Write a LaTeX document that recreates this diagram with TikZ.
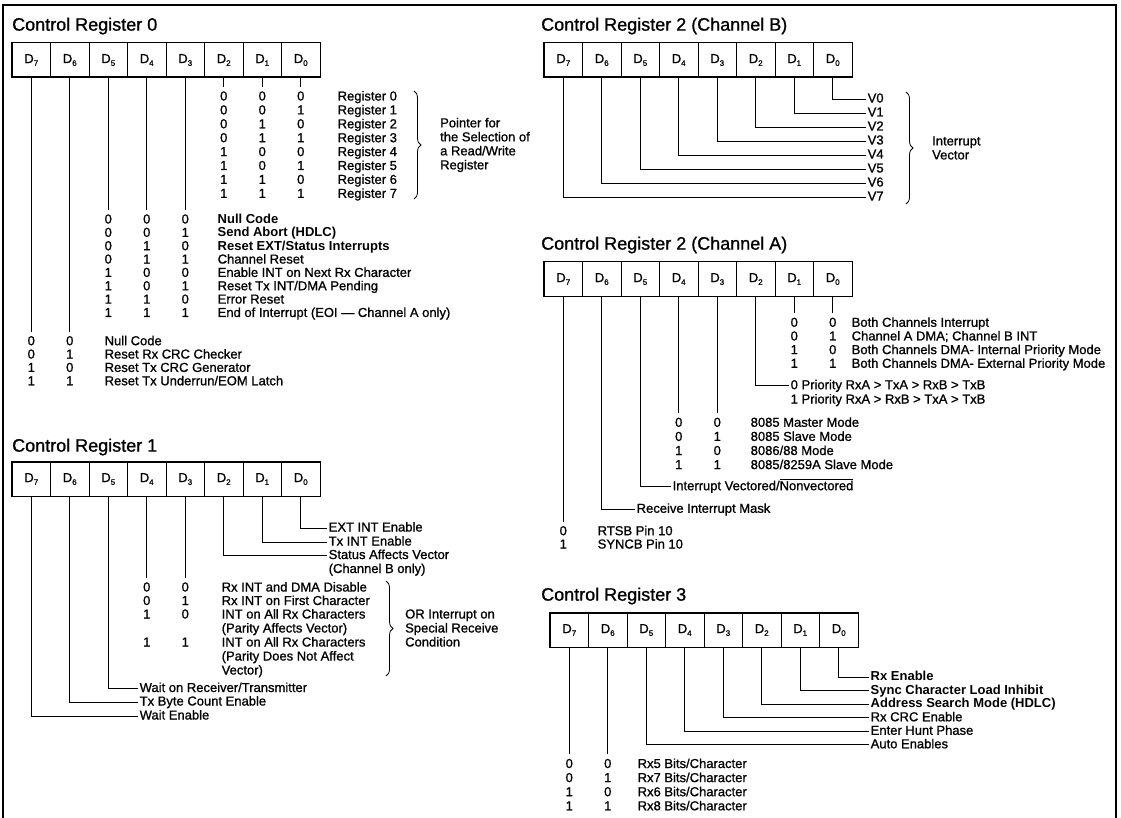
\documentclass[tikz,border=0pt]{standalone}
\usepackage{fontspec}
\setmainfont{Liberation Sans}[UprightFeatures={FakeBold=1.0}]
\usetikzlibrary{decorations.pathreplacing}
\newcommand\dsub[1]{\raisebox{-0.22em}{\fontsize{8}{8}\selectfont #1}}
\newcommand\bodyf{\fontsize{13}{14}\selectfont}
\newcommand\titlef{\fontsize{18}{20}\selectfont}
\tikzset{
 cell/.style={draw, line width=1pt, minimum width=38.5pt, minimum height=34pt, inner sep=0pt, font=\bodyf},
 outer/.style={line width=1.8pt},
 ttl/.style={anchor=west, inner sep=0pt, font=\titlef},
 lbl/.style={anchor=west, inner sep=1.5pt, font=\bodyf, text height=9.5pt, text depth=2.5pt},
 bl/.style={lbl, font=\bodyf\bfseries},
 num/.style={inner sep=0pt, font=\bodyf, text height=9.5pt, text depth=2.5pt},
 wire/.style={line width=0.7pt},
 gap/.style={wire, shorten >=4pt},
 brc/.style={decorate, decoration={brace, amplitude=7pt}, line width=0.8pt},
 para/.style={anchor=west, inner sep=0pt, align=left, font=\bodyf},
}
\newcommand\regrow[3]{%
 \foreach \i in {0,...,7}{
   \node[cell] (#1\i) at ({#2+38.5*(7-\i)+19.25},{#3+17}) {D\dsub{\i}};
 }
 \draw[outer] (#17.north west) rectangle (#10.south east);
}
\begin{document}
\begin{tikzpicture}[x=1pt,y=-1pt]
\useasboundingbox (0,0) rectangle (1121,818);
\draw[line width=1.2pt] (3,818) -- (3,5) -- (1116,5) -- (1116,818);

% ---------------- Control Register 0
\node[ttl] (t0) at (12,26) {Control Register 0};
\regrow{a}{12}{43}
\foreach \k/\b/\c/\d in {0/0/0/0,1/0/0/1,2/0/1/0,3/0/1/1,4/1/0/0,5/1/0/1,6/1/1/0,7/1/1/1}{
 \pgfmathsetmacro\yy{97+13.9*\k}
 \node[num] (pa\k) at (223.75,\yy) {\b};
 \node[num] (pb\k) at (262.25,\yy) {\c};
 \node[num] (pc\k) at (300.75,\yy) {\d};
 \node[lbl] (pr\k) at (336,\yy) {Register \k};
}
\draw[gap] (a2.south) -- (pa0.north);
\draw[gap] (a1.south) -- (pb0.north);
\draw[gap] (a0.south) -- (pc0.north);
\draw[brc] (414,91) -- (414,199);
\node[para] (ptr) at (440,145) {Pointer for\\the Selection of\\a Read/Write\\Register};

\foreach \k/\b/\c/\d in {0/0/0/0,1/0/0/1,2/0/1/0,3/0/1/1,4/1/0/0,5/1/0/1,6/1/1/0,7/1/1/1}{
 \pgfmathsetmacro\yy{220+13.35*\k}
 \node[num] (qa\k) at (108.25,\yy) {\b};
 \node[num] (qb\k) at (146.75,\yy) {\c};
 \node[num] (qc\k) at (185.25,\yy) {\d};
}
\node[bl] (q0) at (216,220) {Null Code};
\node[bl] (q1) at (216,233.35) {Send Abort (HDLC)};
\node[bl] (q2) at (216,246.7) {Reset EXT/Status Interrupts};
\node[lbl] (q3) at (216,260.05) {Channel Reset};
\node[lbl] (q4) at (216,273.4) {Enable INT on Next Rx Character};
\node[lbl] (q5) at (216,286.75) {Reset Tx INT/DMA Pending};
\node[lbl] (q6) at (216,300.1) {Error Reset};
\node[lbl] (q7) at (216,313.45) {End of Interrupt (EOI — Channel A only)};
\draw[gap] (a5.south) -- (qa0.north);
\draw[gap] (a4.south) -- (qb0.north);
\draw[gap] (a3.south) -- (qc0.north);

\foreach \k/\b/\c/\t in {0/0/0/Null Code,1/0/1/Reset Rx CRC Checker,2/1/0/Reset Tx CRC Generator,3/1/1/Reset Tx Underrun\slash EOM Latch}{
 \pgfmathsetmacro\yy{341.7+13.35*\k}
 \node[num] (sa\k) at (31.25,\yy) {\b};
 \node[num] (sb\k) at (69.75,\yy) {\c};
 \node[lbl] (sl\k) at (103,\yy) {\t};
}
\draw[gap] (a7.south) -- (sa0.north);
\draw[gap] (a6.south) -- (sb0.north);

% ---------------- Control Register 1
\node[ttl] (t1) at (12,447) {Control Register 1};
\regrow{b}{12}{462}
\node[lbl] (extint) at (327,528) {EXT INT Enable};
\node[lbl] (txint) at (327,542) {Tx INT Enable};
\node[lbl] (stat) at (327,555.5) {Status Affects Vector};
\node[lbl] (statb) at (327,569.5) {(Channel B only)};
\draw[wire] (b0.south) |- (extint.west);
\draw[wire] (b1.south) |- (txint.west);
\draw[wire] (b2.south) |- (stat.west);
\foreach \k/\b/\c/\y in {0/0/0/588,1/0/1/601.5,2/1/0/615,3/1/1/643}{
 \node[num] (ua\k) at (146.75,\y) {\b};
 \node[num] (ub\k) at (185.25,\y) {\c};
}
\node[lbl] (ul0) at (220,588) {Rx INT and DMA Disable};
\node[lbl] (ul1) at (220,601.5) {Rx INT on First Character};
\node[lbl] (ul2) at (220,615) {INT on All Rx Characters};
\node[lbl] (ul2b) at (220,629) {(Parity Affects Vector)};
\node[lbl] (ul3) at (220,643) {INT on All Rx Characters};
\node[lbl] (ul3b) at (220,657) {(Parity Does Not Affect};
\node[lbl] (ul3c) at (220,671) {Vector)};
\draw[gap] (b4.south) -- (ua0.north);
\draw[gap] (b3.south) -- (ub0.north);
\draw[brc] (386,581) -- (386,676);
\node[para] (orint) at (405,628) {OR Interrupt on\\Special Receive\\Condition};
\node[lbl] (waitrt) at (138,688.5) {Wait on Receiver/Transmitter};
\node[lbl] (txbyte) at (138,702) {Tx Byte Count Enable};
\node[lbl] (waiten) at (138,716) {Wait Enable};
\draw[wire] (b5.south) |- (waitrt.west);
\draw[wire] (b6.south) |- (txbyte.west);
\draw[wire] (b7.south) |- (waiten.west);

% ---------------- Control Register 2 (Channel B)
\node[ttl] (t2) at (541,26) {Control Register 2 (Channel B)};
\regrow{c}{544}{43}
\foreach \k in {0,...,7}{
 \pgfmathsetmacro\yy{99+14*\k}
 \node[lbl] (v\k) at (866,\yy) {V\k};
 \draw[wire] (c\k.south) |- (v\k.west);
}
\draw[brc] (906,92) -- (906,204);
\node[para] (ivec) at (932,148) {Interrupt\\Vector};

% ---------------- Control Register 2 (Channel A)
\node[ttl] (t3) at (541,245) {Control Register 2 (Channel A)};
\regrow{d}{544}{262}
\foreach \k/\b/\c/\t in {0/0/0/Both Channels Interrupt,1/0/1/Channel A DMA; Channel B INT,2/1/0/Both Channels DMA- Internal Priority Mode,3/1/1/Both Channels DMA- External Priority Mode}{
 \pgfmathsetmacro\yy{323.3+13.65*\k}
 \node[num] (wa\k) at (794.25,\yy) {\b};
 \node[num] (wb\k) at (832.75,\yy) {\c};
 \node[lbl] (wl\k) at (850,\yy) {\t};
}
\draw[gap] (d1.south) -- (wa0.north);
\draw[gap] (d0.south) -- (wb0.north);
\node[lbl] (pri0) at (789,385.7) {0 Priority RxA > TxA > RxB > TxB};
\node[lbl] (pri1) at (789,400) {1 Priority RxA > RxB > TxA > TxB};
\draw[wire] (d2.south) |- (pri0.west);
\foreach \k/\b/\c/\t in {0/0/0/8085 Master Mode,1/0/1/8085 Slave Mode,2/1/0/8086\slash 88 Mode,3/1/1/8085\slash 8259A Slave Mode}{
 \pgfmathsetmacro\yy{423.3+14.1*\k}
 \node[num] (xa\k) at (678.75,\yy) {\b};
 \node[num] (xb\k) at (717.25,\yy) {\c};
 \node[lbl] (xl\k) at (749,\yy) {\t};
}
\draw[gap] (d4.south) -- (xa0.north);
\draw[gap] (d3.south) -- (xb0.north);
\node[lbl] (ivn) at (671,486.7) {Interrupt Vectored/$\overline{\mbox{Nonvectored}}$};
\draw[wire] (d5.south) |- (ivn.west);
\node[lbl] (rim) at (635,509.3) {Receive Interrupt Mask};
\draw[wire] (d6.south) |- (rim.west);
\node[num] (ya0) at (563.25,531.7) {0};
\node[num] (ya1) at (563.25,545) {1};
\node[lbl] (yl0) at (596,531.7) {RTSB Pin 10};
\node[lbl] (yl1) at (596,545) {SYNCB Pin 10};
\draw[gap] (d7.south) -- (ya0.north);

% ---------------- Control Register 3
\node[ttl] (t4) at (541,596) {Control Register 3};
\regrow{e}{550}{613}
\node[bl] (f0) at (869,677.3) {Rx Enable};
\node[bl] (f1) at (869,690.8) {Sync Character Load Inhibit};
\node[bl] (f2) at (869,704.3) {Address Search Mode (HDLC)};
\node[lbl] (f3) at (869,717.8) {Rx CRC Enable};
\node[lbl] (f4) at (869,731.3) {Enter Hunt Phase};
\node[lbl] (f5) at (869,744.8) {Auto Enables};
\foreach \k in {0,...,5}{ \draw[wire] (e\k.south) |- (f\k.west); }
\foreach \k/\b/\c/\t in {0/0/0/Rx5 Bits\slash Character,1/0/1/Rx7 Bits\slash Character,2/1/0/Rx6 Bits\slash Character,3/1/1/Rx8 Bits\slash Character}{
 \pgfmathsetmacro\yy{764.5+14.1*\k}
 \node[num] (za\k) at (569.25,\yy) {\b};
 \node[num] (zb\k) at (607.75,\yy) {\c};
 \node[lbl] (zl\k) at (636,\yy) {\t};
}
\draw[gap] (e7.south) -- (za0.north);
\draw[gap] (e6.south) -- (zb0.north);
\end{tikzpicture}
\end{document}
